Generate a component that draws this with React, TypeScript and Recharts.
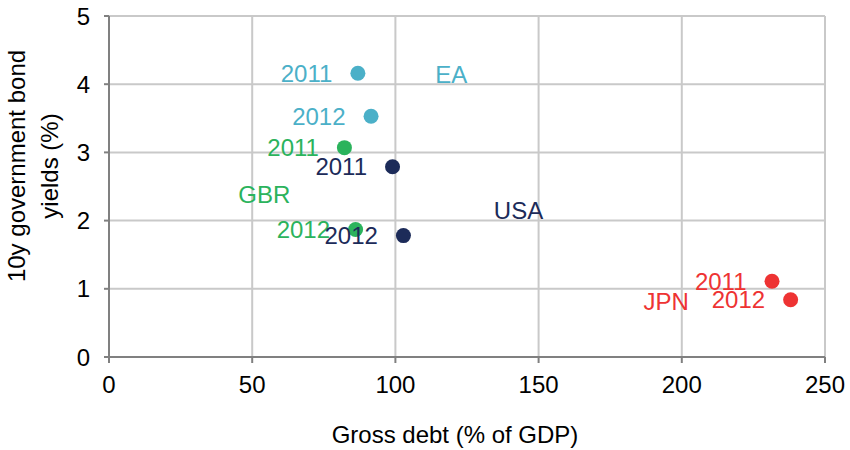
import React from 'react';
import {
  ScatterChart,
  Scatter,
  XAxis,
  YAxis,
  ZAxis,
  CartesianGrid,
  LabelList,
} from 'recharts';

// years shown next to each dot
const years = ['2011', '2012'];

// gross debt (% of GDP) and 10y yields (%)
const eaDebt = [86.9, 91.5];
const eaYield = [4.16, 3.53];
const gbrDebt = [82.2, 86.1];
const gbrYield = [3.07, 1.87];
const usaDebt = [99.0, 102.8];
const usaYield = [2.79, 1.78];
const jpnDebt = [231.5, 238.0];
const jpnYield = [1.11, 0.84];

// country name labels and where they sit in data space
const countryNames = ['EA', 'GBR', 'USA', 'JPN'];
const countryLabelX = [119.5, 54.2, 143.0, 194.5];
const countryLabelY = [4.14, 2.39, 2.15, 0.82];

const xTicks = [0, 50, 100, 150, 200, 250];
const yTicks = [0, 1, 2, 3, 4, 5];

const COLORS = {
  EA: '#4bb0c8',
  GBR: '#2bb35c',
  USA: '#1c2b59',
  JPN: '#ee3333',
};

const FONT = '"Liberation Sans", Arial, sans-serif';
const FS = 24;

const toPoints = (debt: number[], yields: number[]) =>
  debt.map((d, i) => ({ x: d, y: yields[i], year: years[i] }));

const series = [
  { name: 'EA', data: toPoints(eaDebt, eaYield) },
  { name: 'GBR', data: toPoints(gbrDebt, gbrYield) },
  { name: 'USA', data: toPoints(usaDebt, usaYield) },
  { name: 'JPN', data: toPoints(jpnDebt, jpnYield) },
];

const countryLabels = countryNames.map((n, i) => ({
  x: countryLabelX[i],
  y: countryLabelY[i],
  name: n,
}));

const Dot = (color: string) => (props: any) => (
  <circle cx={props.cx} cy={props.cy} r={7.5} fill={color} />
);

const CountryText = (props: any) => (
  <text
    x={props.cx}
    y={props.cy}
    textAnchor="middle"
    dominantBaseline="central"
    fontSize={FS}
    fontFamily={FONT}
    fill={COLORS[props.payload.name as keyof typeof COLORS]}
  >
    {props.payload.name}
  </text>
);

const YTitle = () => (
  <text
    transform="translate(0,166) rotate(-90)"
    textAnchor="middle"
    fontSize={FS}
    fontFamily={FONT}
    fill="#000"
  >
    <tspan x={0} y={25}>10y government bond</tspan>
    <tspan x={0} y={58}>yields (%)</tspan>
  </text>
);

export default function App() {
  return (
    <div style={{ position: 'absolute', left: 0, top: 0, fontFamily: FONT }}>
      <ScatterChart
        width={850}
        height={450}
        margin={{ top: 16, right: 25, left: 0, bottom: 0 }}
      >
        <CartesianGrid stroke="#c9c9c9" strokeWidth={2} />
        <XAxis
          type="number"
          dataKey="x"
          domain={[0, 250]}
          ticks={xTicks}
          height={93}
          stroke="#808080"
          strokeWidth={2}
          tickSize={6}
          tickMargin={13}
          tick={{ fill: '#000', fontSize: FS, fontFamily: FONT }}
          label={{
            value: 'Gross debt (% of GDP)',
            position: 'insideBottom',
            offset: 7,
            dx: -12,
            fill: '#000',
            fontSize: FS,
            fontFamily: FONT,
          }}
        />
        <YAxis
          type="number"
          dataKey="y"
          domain={[0, 5]}
          ticks={yTicks}
          width={109}
          stroke="#808080"
          strokeWidth={2}
          tickSize={5}
          tickMargin={14}
          tick={{ fill: '#000', fontSize: FS, fontFamily: FONT }}
          label={<YTitle />}
        />
        <ZAxis range={[177, 177]} />
        {series.map((s) => (
          <Scatter
            key={s.name}
            name={s.name}
            data={s.data}
            fill={COLORS[s.name as keyof typeof COLORS]}
            shape={Dot(COLORS[s.name as keyof typeof COLORS])}
            isAnimationActive={false}
          >
            <LabelList
              dataKey="year"
              position="left"
              offset={21}
              fill={COLORS[s.name as keyof typeof COLORS]}
              fontSize={FS}
              fontFamily={FONT}
            />
          </Scatter>
        ))}
        <Scatter
          name="labels"
          data={countryLabels}
          shape={CountryText}
          isAnimationActive={false}
        />
      </ScatterChart>
    </div>
  );
}
